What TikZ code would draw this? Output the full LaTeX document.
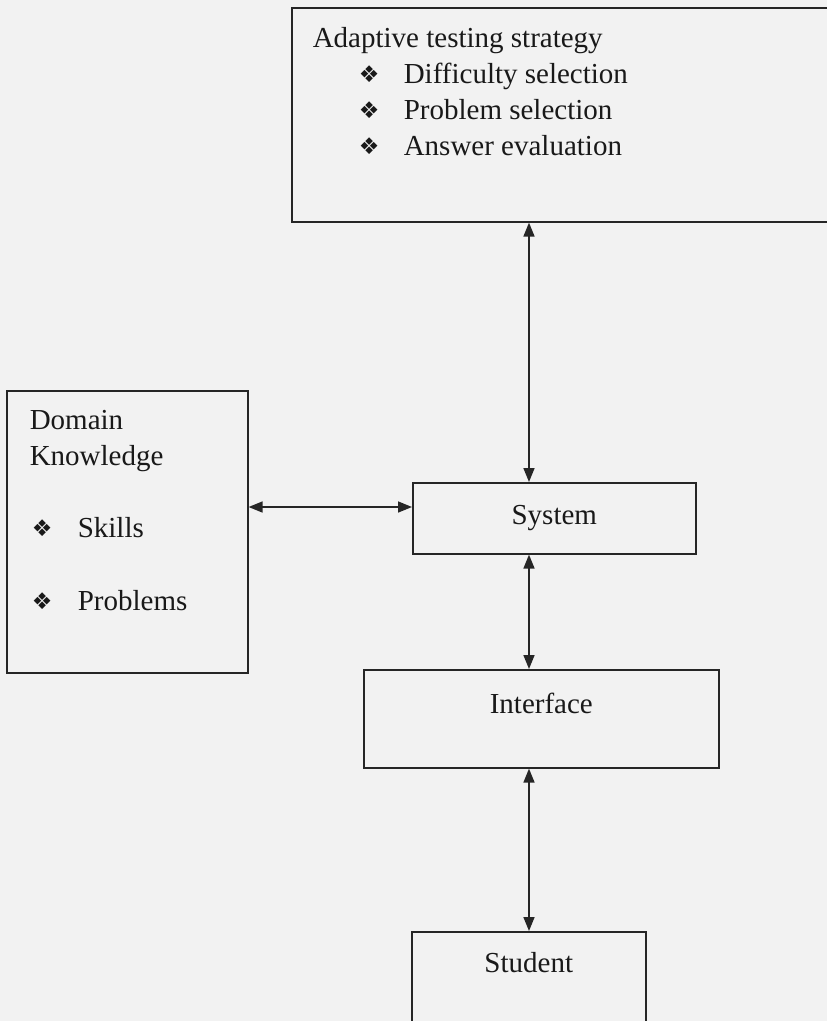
\documentclass[tikz,border=0pt]{standalone}
\usepackage{fontspec}
\setmainfont{Liberation Serif}
\newfontfamily\dingfont{DejaVu Sans}
\usetikzlibrary{arrows.meta}
\newcommand{\dbul}{\raisebox{1pt}{\dingfont\fontsize{23}{23}\selectfont ❖}}
\tikzset{
    plain-box/.style = {draw=black!85, text=black!90, line width=1.6pt, rectangle, inner sep=0pt, anchor=north west, font=\fontsize{29}{36}\selectfont},
    two-way/.style = {draw=black!85, line width=1.6pt, {Triangle[length=14pt,width=11pt]}-{Triangle[length=14pt,width=11pt]}},
}

\begin{document}
\begin{tikzpicture}[x=1pt,y=-1pt]
\useasboundingbox (0,0) rectangle (827,1021);
\fill[black!5] (0,0) rectangle (827,1021);
\clip (0,0) rectangle (827,1021);
\coordinate (axis) at (529,507);
\node [plain-box] (strategy) at (291,7) {\begin{minipage}[t][214pt][t]{560pt}
    \vspace*{20pt}
    \hspace*{21pt}Adaptive testing strategy\\
    \hspace*{67pt}\makebox[45pt][l]{\dbul}Difficulty selection\\
    \hspace*{67pt}\makebox[45pt][l]{\dbul}Problem selection\\
    \hspace*{67pt}\makebox[45pt][l]{\dbul}Answer evaluation
\end{minipage}};
\node [plain-box] (domain) at (6,390) {\begin{minipage}[t][282pt][t]{241pt}
    \vspace*{19pt}
    \hspace*{23pt}Domain\\
    \hspace*{23pt}Knowledge\\[36pt]
    \hspace*{25pt}\makebox[46pt][l]{\dbul}Skills\\[37pt]
    \hspace*{25pt}\makebox[46pt][l]{\dbul}Problems
\end{minipage}};
\node [plain-box, minimum width=283pt, minimum height=71pt] (system) at (412,482) {System};
\node [plain-box] (interface) at (363,669) {\begin{minipage}[t][98pt][t]{355pt}
    \centering\vspace*{23pt}
    Interface
\end{minipage}};
\node [plain-box] (student) at (411,931) {\begin{minipage}[t][130pt][t]{234pt}
    \centering\vspace*{21pt}
    Student
\end{minipage}};
% connectors
\draw [two-way] (strategy.south -| axis) -- (system.north -| axis);
\draw [two-way] (domain.east |- axis) -- (system.west |- axis);
\draw [two-way] (system.south -| axis) -- (interface.north -| axis);
\draw [two-way] (interface.south -| axis) -- (student.north -| axis);
\end{tikzpicture}
\end{document}
